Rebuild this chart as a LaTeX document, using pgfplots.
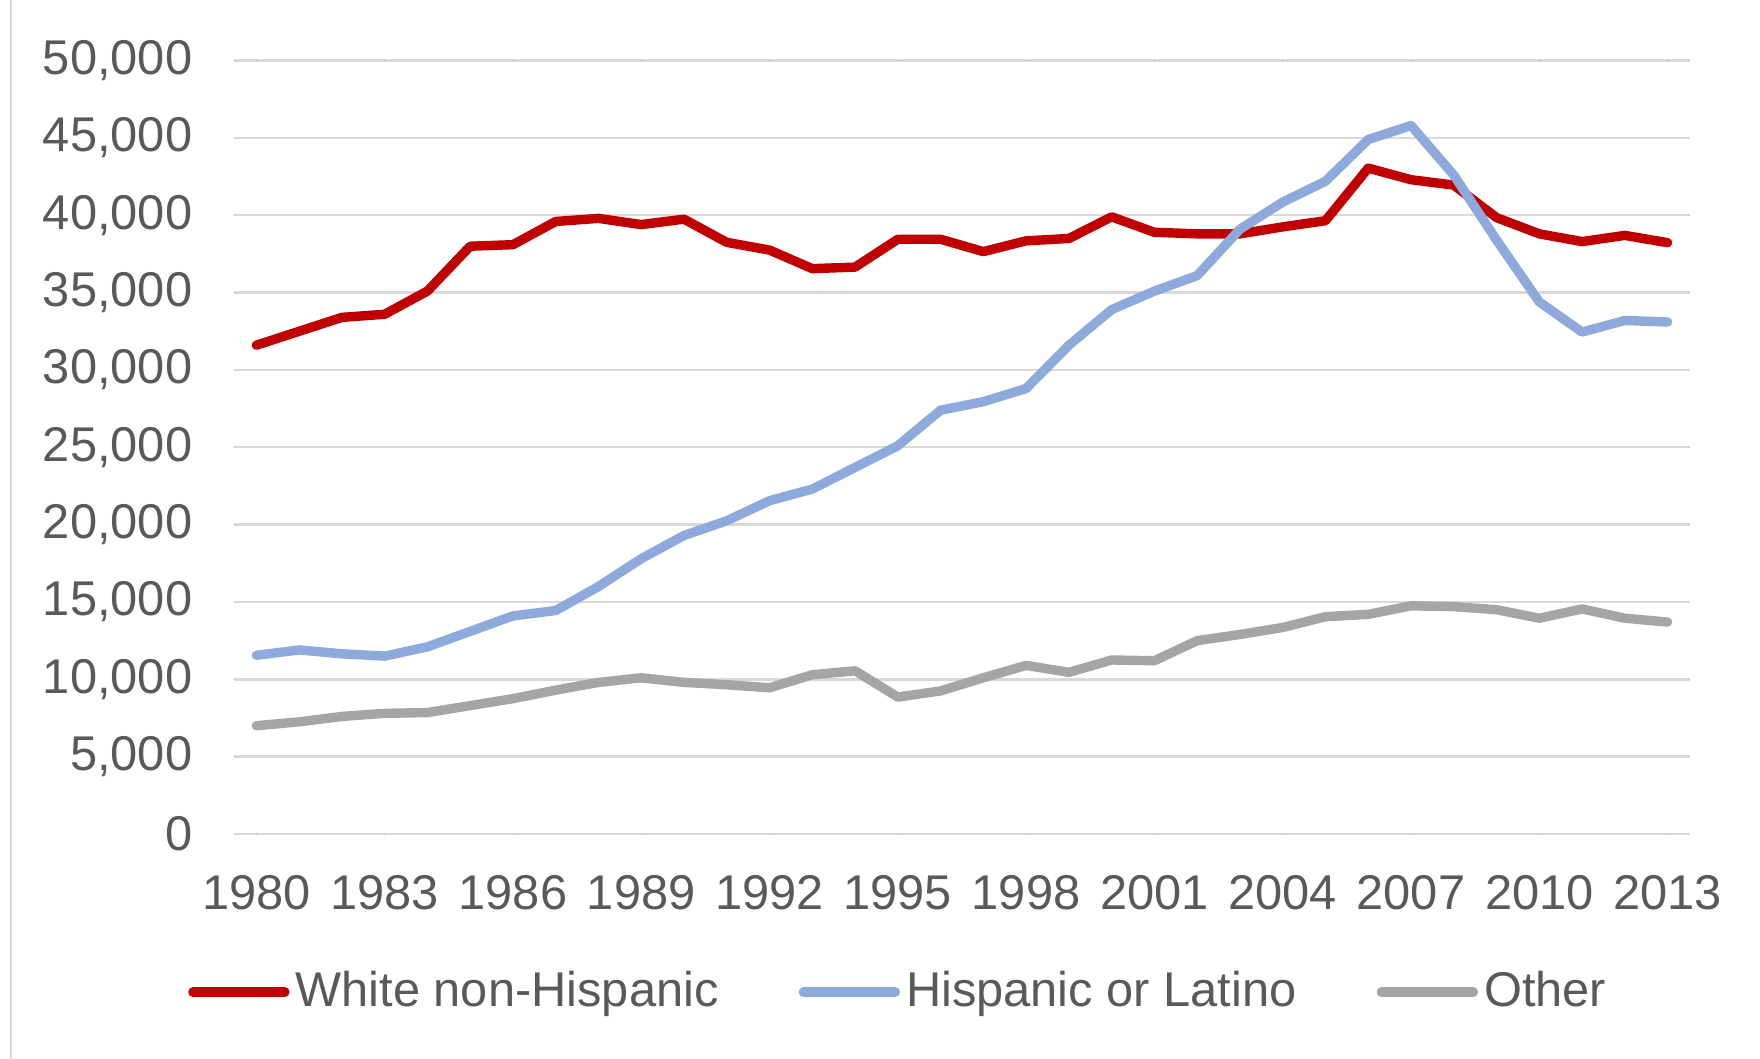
\documentclass[border=0pt]{standalone}
\usepackage{pgfplots}
\pgfplotsset{compat=1.18}
\usepackage{fontspec}
\setmainfont{Liberation Sans}

\definecolor{whiteRed}{HTML}{C00000}
\definecolor{hispBlue}{HTML}{8EA9DB}
\definecolor{otherGray}{HTML}{A5A5A5}
\definecolor{gridGray}{HTML}{D9D9D9}
\definecolor{textGray}{HTML}{595959}

\begin{document}
\begin{tikzpicture}
\path[use as bounding box] (0,0) rectangle (440pt,264.75pt);
\draw[gridGray, line width=0.6pt] (2.75pt,0) -- (2.75pt,264.75pt);
\begin{axis}[
  at={(58.75pt,56.25pt)}, anchor=south west,
  scale only axis,
  width=363.5pt, height=193.35pt,
  xmin=1979.5, xmax=2013.5,
  ymin=0, ymax=50000,
  xtick={1980,1983,...,2013},
  ytick={0,5000,...,50000},
  scaled y ticks=false,
  axis line style={draw=none},
  major tick length=0pt,
  ymajorgrids,
  major grid style={gridGray, line width=0.6pt},
  /pgf/number format/assume math mode=true,
  font=\fontsize{12.2}{14.6}\selectfont,
  tick label style={textGray, inner sep=0pt},
  yticklabel style={anchor=east, xshift=-10.5pt, /pgf/number format/1000 sep={,}},
  xticklabel style={anchor=north, yshift=-10.25pt, /pgf/number format/1000 sep={}},
  line cap=round, line join=round,
  legend columns=3,
  legend style={
    at={(0.4575,-0.2045)}, anchor=center,
    draw=none, fill=none,
    font=\fontsize{12.2}{14.6}\selectfont, text=textGray,
    nodes={inner sep=1.5pt},
    /tikz/every even column/.append style={column sep=18.5pt},
  },
  legend cell align=left,
  legend image code/.code={\draw[#1, line cap=round] (0pt,0pt) -- (23pt,0pt);},
]
\addplot[whiteRed, line width=2.35pt] coordinates {
  (1980,31600) (1981,32500) (1982,33400) (1983,33600) (1984,35100)
  (1985,38000) (1986,38100) (1987,39600) (1988,39800) (1989,39400)
  (1990,39750) (1991,38250) (1992,37750) (1993,36550) (1994,36650)
  (1995,38450) (1996,38450) (1997,37650) (1998,38350) (1999,38500)
  (2000,39900) (2001,38900) (2002,38800) (2003,38800) (2004,39250)
  (2005,39650) (2006,43050) (2007,42300) (2008,41950) (2009,39850)
  (2010,38800) (2011,38300) (2012,38700) (2013,38230)
};
\addlegendentry{White non-Hispanic}
\addplot[hispBlue, line width=2.35pt] coordinates {
  (1980,11550) (1981,11900) (1982,11650) (1983,11500) (1984,12100)
  (1985,13100) (1986,14100) (1987,14450) (1988,16000) (1989,17800)
  (1990,19300) (1991,20250) (1992,21550) (1993,22300) (1994,23700)
  (1995,25100) (1996,27400) (1997,27950) (1998,28800) (1999,31600)
  (2000,33900) (2001,35100) (2002,36100) (2003,39100) (2004,40850)
  (2005,42200) (2006,44900) (2007,45800) (2008,42600) (2009,38400)
  (2010,34400) (2011,32450) (2012,33200) (2013,33100)
};
\addlegendentry{Hispanic or Latino}
\addplot[otherGray, line width=2.35pt] coordinates {
  (1980,7000) (1981,7250) (1982,7600) (1983,7800) (1984,7850)
  (1985,8300) (1986,8750) (1987,9300) (1988,9800) (1989,10100)
  (1990,9800) (1991,9650) (1992,9450) (1993,10300) (1994,10550)
  (1995,8850) (1996,9250) (1997,10100) (1998,10900) (1999,10450)
  (2000,11250) (2001,11200) (2002,12500) (2003,12900) (2004,13350)
  (2005,14050) (2006,14200) (2007,14750) (2008,14700) (2009,14500)
  (2010,13950) (2011,14550) (2012,13950) (2013,13700)
};
\addlegendentry{Other}
\end{axis}
\end{tikzpicture}
\end{document}
